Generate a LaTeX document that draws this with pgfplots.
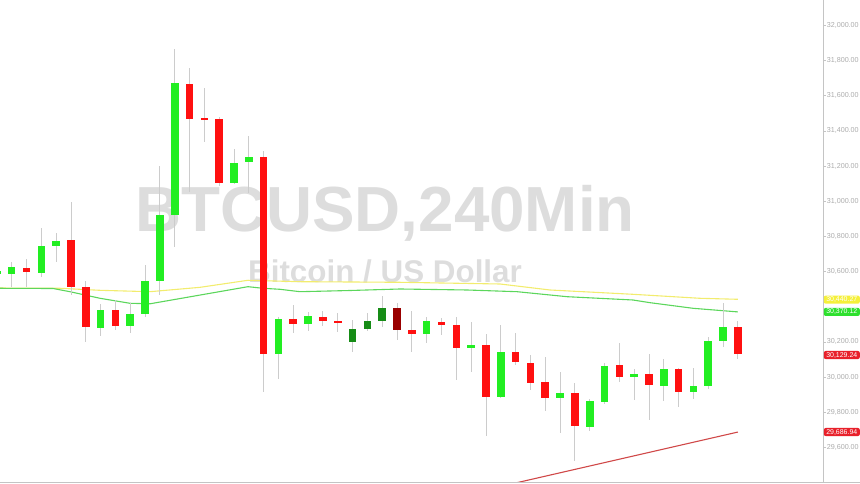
\documentclass[border=0pt]{standalone}
\usepackage{fontspec}
\setmainfont{Liberation Sans}
\usepackage{pgfplots}
\usepackage{pgfplotstable}
\pgfplotsset{compat=1.18}
\definecolor{cgreen}{HTML}{22EE22}
\definecolor{cred}{HTML}{FF1010}
\definecolor{cdkgreen}{HTML}{168C16}
\definecolor{cdkred}{HTML}{9A0000}
\definecolor{wick}{HTML}{CCCCCC}
\definecolor{magreen}{HTML}{5CD65C}
\definecolor{mayellow}{HTML}{F2EC6E}
\definecolor{trend}{HTML}{D04848}
\definecolor{wm}{HTML}{DDDDDD}
\definecolor{axgray}{HTML}{C4C4C4}
\definecolor{lblgray}{HTML}{ABABAB}
\definecolor{lblyellow}{HTML}{F5F03A}
\definecolor{lblgreen}{HTML}{2EE02E}
\definecolor{lblred}{HTML}{E8202A}

\pgfplotstableread{
i O H L C
-1 30588 30625 30560 30605
0 30585.8 30652.3 30510.1 30623.9
2 30593.2 30845.7 30567.0 30743.3
3 30743.3 30817.3 30654.0 30775.2
6 30278.7 30415.2 30234.9 30381.0
8 30291.8 30419.2 30248.5 30358.3
9 30358.3 30635.3 30343.0 30544.3
10 30544.3 31201.7 30466.4 30919.6
11 30923.0 31863.7 30737.6 31672.0
15 31101.6 31296.7 31095.0 31215.4
16 31224.5 31372.3 31048.2 31249.5
18 30129.1 30343.0 29986.9 30328.2
20 30301.4 30371.4 30263.3 30345.2
28 30244.6 30343.0 30191.7 30318.5
31 30164.9 30314.5 30030.1 30183.7
33 29886.3 30295.7 29880.0 30142.2
37 29880.6 30030.1 29679.8 29907.3
39 29717.3 29873.2 29694.6 29860.7
40 29857.8 30081.3 29846.4 30064.3
42 29998.3 30045.5 29869.2 30015.4
44 29950.5 30100.7 29865.2 30047.2
46 29914.7 30049.5 29876.6 29950.5
47 29950.5 30229.2 29933.5 30204.7
48 30203.0 30419.2 30168.9 30284.4
}\greentab

\pgfplotstableread{
i O H L C
1 30621.6 30669.4 30510.1 30595.4
4 30777.5 30997.0 30466.4 30513.6
5 30513.6 30546.0 30197.3 30282.7
7 30382.8 30437.9 30267.3 30291.8
12 31668.0 31755.7 31053.8 31469.0
13 31471.3 31641.9 31338.2 31463.3
14 31467.3 31477.0 31088.0 31101.6
17 31249.5 31285.3 29916.4 30130.8
19 30329.9 30409.5 30251.9 30303.1
21 30343.0 30377.0 30290.0 30320.2
22 30320.2 30365.7 30257.6 30311.1
27 30265.6 30375.4 30143.9 30244.6
29 30315.6 30333.8 30238.9 30296.9
30 30297.4 30339.5 29982.9 30164.9
32 30180.3 30244.6 29664.4 29886.3
34 30142.2 30248.5 30068.2 30083.6
35 30077.9 30125.1 29926.1 29967.6
36 29969.9 30115.5 29806.6 29880.6
38 29907.3 29967.6 29524.0 29719.6
41 30068.2 30195.1 29973.3 29998.3
43 30015.4 30129.1 29755.4 29952.8
45 30045.5 30052.9 29831.1 29914.7
49 30284.4 30320.2 30100.7 30129.24
}\redtab

\pgfplotstableread{
i O H L C
23 30197.3 30324.2 30143.9 30274.7
24 30274.7 30362.3 30259.9 30318.5
25 30316.8 30460.7 30282.7 30390.7
}\dkgreentab

\pgfplotstableread{
i O H L C
26 30390.7 30419.2 30210.4 30265.6
}\dkredtab

\pgfplotstableread{
i v
-0.79 30504.5
2.79 30503.3
3.93 30485.1
5.96 30447.6
7.98 30419.2
9.33 30416.3
15.94 30513.6
16.96 30504.5
18.10 30498.8
19.45 30485.1
22.83 30491.9
26.20 30500.5
30.72 30494.8
34.10 30485.1
37.47 30456.7
41.92 30437.9
43.07 30422.6
45.97 30390.7
49.00 30370.12
}\magreentab

\pgfplotstableread{
i v
-0.79 30506.0
3.26 30504.5
5.96 30493.0
9.33 30485.1
12.71 30510.0
15.94 30550.0
19.45 30542.0
26.20 30538.6
32.95 30528.9
36.32 30494.8
41.92 30470.3
46.44 30447.6
49.00 30441.9
}\mayellowtab

\newcommand{\wicks}[1]{%
  \addplot[draw=none, no markers, error bars/.cd, y dir=both, y explicit,
    error mark=none, error bar style={line width=0.9bp, draw=wick}]
    table[x=i, y expr={(\thisrow{H}+\thisrow{L})/2}, y error expr={(\thisrow{H}-\thisrow{L})/2}] {#1};}
\newcommand{\bodies}[2]{%
  \addplot[draw=none, no markers, error bars/.cd, y dir=both, y explicit,
    error mark=none, error bar style={line width=7.6bp, draw=#2}]
    table[x=i, y expr={(\thisrow{O}+\thisrow{C})/2}, y error expr={max(abs(\thisrow{C}-\thisrow{O})/2,4)}] {#1};}

\begin{document}
\begin{tikzpicture}
\path[use as bounding box] (0,0) rectangle (860bp,484bp);
\node[anchor=base, text=wm, font=\bfseries\fontsize{64}{64}\selectfont] at (385bp,252.3bp) {BTCUSD,240Min};
\node[anchor=base, text=wm, font=\bfseries\fontsize{31.5}{32}\selectfont] at (385bp,201bp) {Bitcoin / US Dollar};
\begin{axis}[
  at={(0,2bp)}, anchor=south west,
  scale only axis, width=823bp, height=482bp,
  xmin=-0.789, xmax=54.74,
  ymin=29402.8, ymax=32144.1,
  axis x line=none,
  axis y line*=right,
  axis line style={color=axgray, line width=0.8bp},
  xtick=\empty,
  ytick={29600,29800,30000,30200,30600,30800,31000,31200,31400,31600,31800,32000},
  scaled y ticks=false,
  tick align=outside,
  major tick length=3bp,
  tick style={color=axgray, line width=0.6bp},
  yticklabel={\pgfmathprintnumber[fixed, fixed zerofill, precision=2, 1000 sep={,}]{\tick}},
  /pgf/number format/assume math mode=true,
  yticklabel style={font=\fontsize{7.2}{8}\selectfont, text=lblgray, inner sep=0.6bp},
  clip=false,
]
% moving averages
\addplot[mayellow, line width=1.1bp] table[x=i, y=v] {\mayellowtab};
\addplot[magreen, line width=1.1bp] table[x=i, y=v] {\magreentab};
% trend line
\begin{scope}
\clip (axis cs:-0.789,29402.8) rectangle (axis cs:54.74,32144.1);
\addplot[trend, line width=1.1bp] coordinates {(30,29320) (49,29686.94)};
\end{scope}
% candles
\wicks{\greentab}
\wicks{\redtab}
\wicks{\dkgreentab}
\wicks{\dkredtab}
\begin{scope}
\clip (axis cs:-0.789,29402.8) rectangle (axis cs:54.74,32144.1);
\bodies{\greentab}{cgreen}
\end{scope}
\bodies{\redtab}{cred}
\bodies{\dkgreentab}{cdkgreen}
\bodies{\dkredtab}{cdkred}
% price labels
\tikzset{plabel/.style={anchor=west, text=white, font=\fontsize{7}{8}\selectfont, inner xsep=1.5bp, inner ysep=1.2bp, rounded corners=2bp, minimum width=36bp, xshift=0.6bp}}
\node[plabel, fill=lblyellow] at (axis cs:54.74,30440) {30,440.27};
\node[plabel, fill=lblgreen] at (axis cs:54.74,30370.12) {30,370.12};
\node[plabel, fill=lblred] at (axis cs:54.74,30125) {30,129.24};
\node[plabel, fill=lblred] at (axis cs:54.74,29686.94) {29,686.94};
\end{axis}
\draw[axgray, line width=0.8bp] (0,2bp) -- (860bp,2bp);
\end{tikzpicture}
\end{document}
